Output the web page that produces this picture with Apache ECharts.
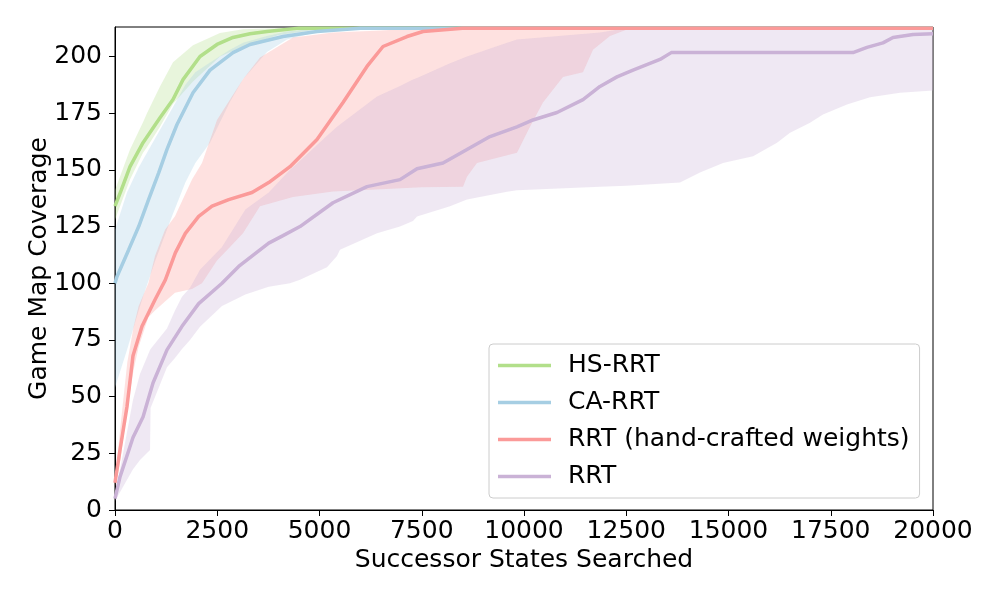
<html>
<head>
    <meta charset="utf-8" />
    <script src="https://cdn.jsdelivr.net/npm/echarts@6/dist/echarts.min.js"></script>
    <title>Game Map Coverage</title>
    <style>
        body { margin: 0; background: #fff; }
        #chart { width: 1000px; height: 600px; }
    </style>
</head>
<body>
<div id="chart"></div>
<script type="text/javascript">
    // axis
    var xTicks = [0, 2500, 5000, 7500, 10000, 12500, 15000, 17500, 20000];
    var yTicks = [0, 25, 50, 75, 100, 125, 150, 175, 200];
    var names = ['HS-RRT', 'CA-RRT', 'RRT (hand-crafted weights)', 'RRT'];
    var colors = ['#b2df8a', '#a6cee3', '#fb9a99', '#cab2d6'];

    // HS-RRT mean
    var hsX = [0, 150, 367, 685, 1100, 1418, 1663, 2078, 2494, 2885, 3300, 3716, 4500, 6000, 20000];
    var hsY = [134, 141, 151.4, 162, 173, 181, 189.8, 200, 205.3, 208.4, 210, 211, 212.5, 212.5, 212.5];
    // HS-RRT band
    var hsBandX = [0, 367, 685, 782, 1100, 1418, 1907, 2567, 3130, 4000, 5000, 20000];
    var hsHigh = [141, 159, 171, 175, 186.8, 197.5, 205, 210.3, 212, 212.5, 212.5, 212.5];
    var hsLow = [128, 145.7, 157.6, 160, 169, 179, 189, 200, 204.4, 209.5, 212, 212.5];

    // CA-RRT mean
    var caX = [0, 49, 335, 579, 823, 1068, 1271, 1516, 1907, 2323, 2885, 3300, 4108, 4939, 6000, 20000];
    var caY = [100, 103, 114.8, 125, 137, 148.7, 159, 170, 184, 194, 201.7, 205.3, 208.8, 211, 212.5, 212.5];
    // CA-RRT band
    var caBandX = [0, 293, 579, 685, 986, 1394, 1720, 1964, 2323, 2812, 3130, 3716, 4205, 5000, 6000, 20000];
    var caHigh = [123.6, 140, 151, 154.5, 164, 177, 187.5, 193, 197.3, 203, 206, 209, 211, 212.5, 212.5, 212.5];
    var caLow = [54, 70.6, 88, 94, 110, 129.5, 144.4, 153, 162, 180, 190, 202, 207.5, 211, 212.5, 212.5];

    // RRT (hand-crafted weights) mean
    var hcX = [0, 122, 293, 440, 660, 978, 1231, 1475, 1720, 2046, 2372, 2780, 3350, 3758, 4279, 4939, 5575, 6161, 6553, 7140, 7531, 8500, 20000];
    var hcY = [12, 26.5, 45.5, 68, 81, 92.7, 101.5, 113.4, 122, 129.5, 134, 136.9, 140, 144.4, 151.4, 163.4, 179.7, 195.6, 204.4, 208.8, 211, 212.5, 212.5];
    // RRT (hand-crafted weights) band
    var hcBandX = [0, 122, 300, 457, 579, 815, 978, 1223, 1467, 1883, 2127, 2494, 2812, 3130, 3545, 4352, 5330, 6500, 7500, 8509, 8606, 8850, 9828, 10147, 10464, 10953, 11442, 11687, 12103, 12600, 20000];
    var hcHigh = [12, 35, 65, 81, 90, 100, 112, 123.6, 129.5, 145.7, 153, 172, 181, 190, 199.5, 208.4, 210.6, 211.5, 212.5, 212.5, 212.5, 212.5, 212.5, 212.5, 212.5, 212.5, 212.5, 212.5, 212.5, 212.5, 212.5];
    var hcLow = [10, 20.7, 45, 62, 72, 85, 88, 92, 95.8, 97.5, 100, 110, 116, 122, 134, 138, 140.5, 141.5, 142.3, 142.6, 147, 153, 157.6, 169, 179.7, 191, 193, 203, 209, 212.5, 212.5];

    // RRT mean
    var rrtX = [0, 122, 440, 685, 929, 1271, 1638, 2046, 2616, 3024, 3758, 4108, 4523, 5330, 6161, 6968, 7384, 8020, 8606, 9169, 9828, 10220, 10807, 11442, 11858, 12273, 12665, 13325, 13600, 18044, 18386, 18777, 19022, 19511, 20000];
    var rrtY = [5, 14.6, 32, 41, 56, 70.6, 81, 91, 100, 107.4, 117.7, 121, 125, 135.5, 142.6, 145.7, 150.5, 153, 159, 164.7, 169, 172, 175.3, 181, 186.8, 191, 194, 198.7, 201.7, 201.7, 204, 206, 208.4, 209.7, 210];
    // RRT band
    var rrtBandX = [0, 440, 611, 856, 870, 1271, 1467, 1638, 1834, 2078, 2616, 3187, 3758, 4279, 4523, 5183, 5428, 5500, 6406, 6968, 7286, 7384, 8191, 8606, 9584, 9828, 11858, 12500, 13814, 14303, 14866, 15600, 16186, 16504, 16993, 17310, 17897, 18460, 19193, 20000];
    var rrtHigh = [6, 48.5, 60, 70.6, 71, 80, 88, 94, 98, 106, 116, 132.5, 140, 150, 154, 165, 169, 170, 182.3, 187, 189.8, 190.5, 197, 200, 206, 207.5, 210.6, 212.5, 212.5, 212.5, 212.5, 212.5, 212.5, 212.5, 212.5, 212.5, 212.5, 212.5, 212.5, 212.5];
    var rrtLow = [4, 18, 22, 26.5, 45, 63, 67, 71, 75, 80.8, 90, 95, 98.5, 100, 101.5, 107, 112, 114.8, 122, 125, 127.5, 129.4, 134, 136.9, 140.4, 141, 142.6, 143, 144.4, 148.8, 153, 156, 162, 166.4, 170.8, 174.4, 178.8, 182, 184, 185];

    function pairs(xs, ys) {
        var out = [];
        for (var i = 0; i < xs.length; i++) out.push([xs[i], ys[i]]);
        return out;
    }

    function band(name, xs, low, high, color) {
        return {
            name: name + ' band',
            type: 'custom',
            silent: true,
            z: 1,
            data: [[xs[0], low[0]]],
            renderItem: function(params, api) {
                var pts = [];
                for (var i = 0; i < xs.length; i++) pts.push(api.coord([xs[i], high[i]]));
                for (var j = xs.length - 1; j >= 0; j--) pts.push(api.coord([xs[j], low[j]]));
                return {
                    type: 'polygon',
                    shape: { points: pts },
                    style: { fill: color, opacity: 0.3 }
                };
            }
        };
    }

    function line(name, xs, ys, color) {
        return {
            name: name,
            type: 'line',
            z: 3,
            symbol: 'none',
            data: pairs(xs, ys),
            lineStyle: { color: color, width: 3.5 },
            itemStyle: { color: color }
        };
    }

    var chart = echarts.init(document.getElementById('chart'));
    var font = 'DejaVu Sans';
    var fs = 25;
    var option = {
        animation: false,
        textStyle: { fontFamily: font },
        grid: {
            left: 115, right: 67, top: 27, bottom: 90,
            show: true, borderColor: '#000', borderWidth: 1
        },
        legend: {
            data: names.map(function(n) { return { name: n, icon: 'rect' }; }),
            orient: 'vertical',
            left: 489,
            top: 344,
            padding: [9, 10, 9, 9],
            itemGap: 12,
            itemWidth: 53,
            itemHeight: 3.5,
            borderColor: '#cccccc',
            borderWidth: 1,
            borderRadius: 4,
            backgroundColor: 'rgba(255,255,255,0.8)',
            textStyle: { fontFamily: font, fontSize: fs, color: '#000', padding: [0, 0, 0, 12] }
        },
        xAxis: {
            type: 'value',
            min: 0, max: 20000, interval: 2500,
            name: 'Successor States Searched',
            nameLocation: 'middle',
            nameGap: 38,
            nameMoveOverlap: false,
            nameTextStyle: { fontFamily: font, fontSize: fs, color: '#000' },
            axisLine: { lineStyle: { color: '#000' } },
            axisTick: { show: true, length: 6, lineStyle: { color: '#000' } },
            axisLabel: {
                fontFamily: font, fontSize: fs, color: '#000', margin: 9,
                formatter: function(v) { return String(v); }
            },
            splitLine: { show: false }
        },
        yAxis: {
            type: 'value',
            min: 0, max: 213, interval: 25,
            name: 'Game Map Coverage',
            nameLocation: 'middle',
            nameGap: 63,
            nameMoveOverlap: false,
            nameTextStyle: { fontFamily: font, fontSize: fs, color: '#000' },
            axisLine: { show: true, lineStyle: { color: '#000' } },
            axisTick: { show: true, length: 6, lineStyle: { color: '#000' } },
            axisLabel: { fontFamily: font, fontSize: fs, color: '#000', margin: 13, showMaxLabel: false },
            splitLine: { show: false }
        },
        series: [
            band(names[0], hsBandX, hsLow, hsHigh, colors[0]),
            band(names[1], caBandX, caLow, caHigh, colors[1]),
            band(names[2], hcBandX, hcLow, hcHigh, colors[2]),
            band(names[3], rrtBandX, rrtLow, rrtHigh, colors[3]),
            line(names[0], hsX, hsY, colors[0]),
            line(names[1], caX, caY, colors[1]),
            line(names[2], hcX, hcY, colors[2]),
            line(names[3], rrtX, rrtY, colors[3])
        ]
    };
    chart.setOption(option);
</script>
</body>
</html>
